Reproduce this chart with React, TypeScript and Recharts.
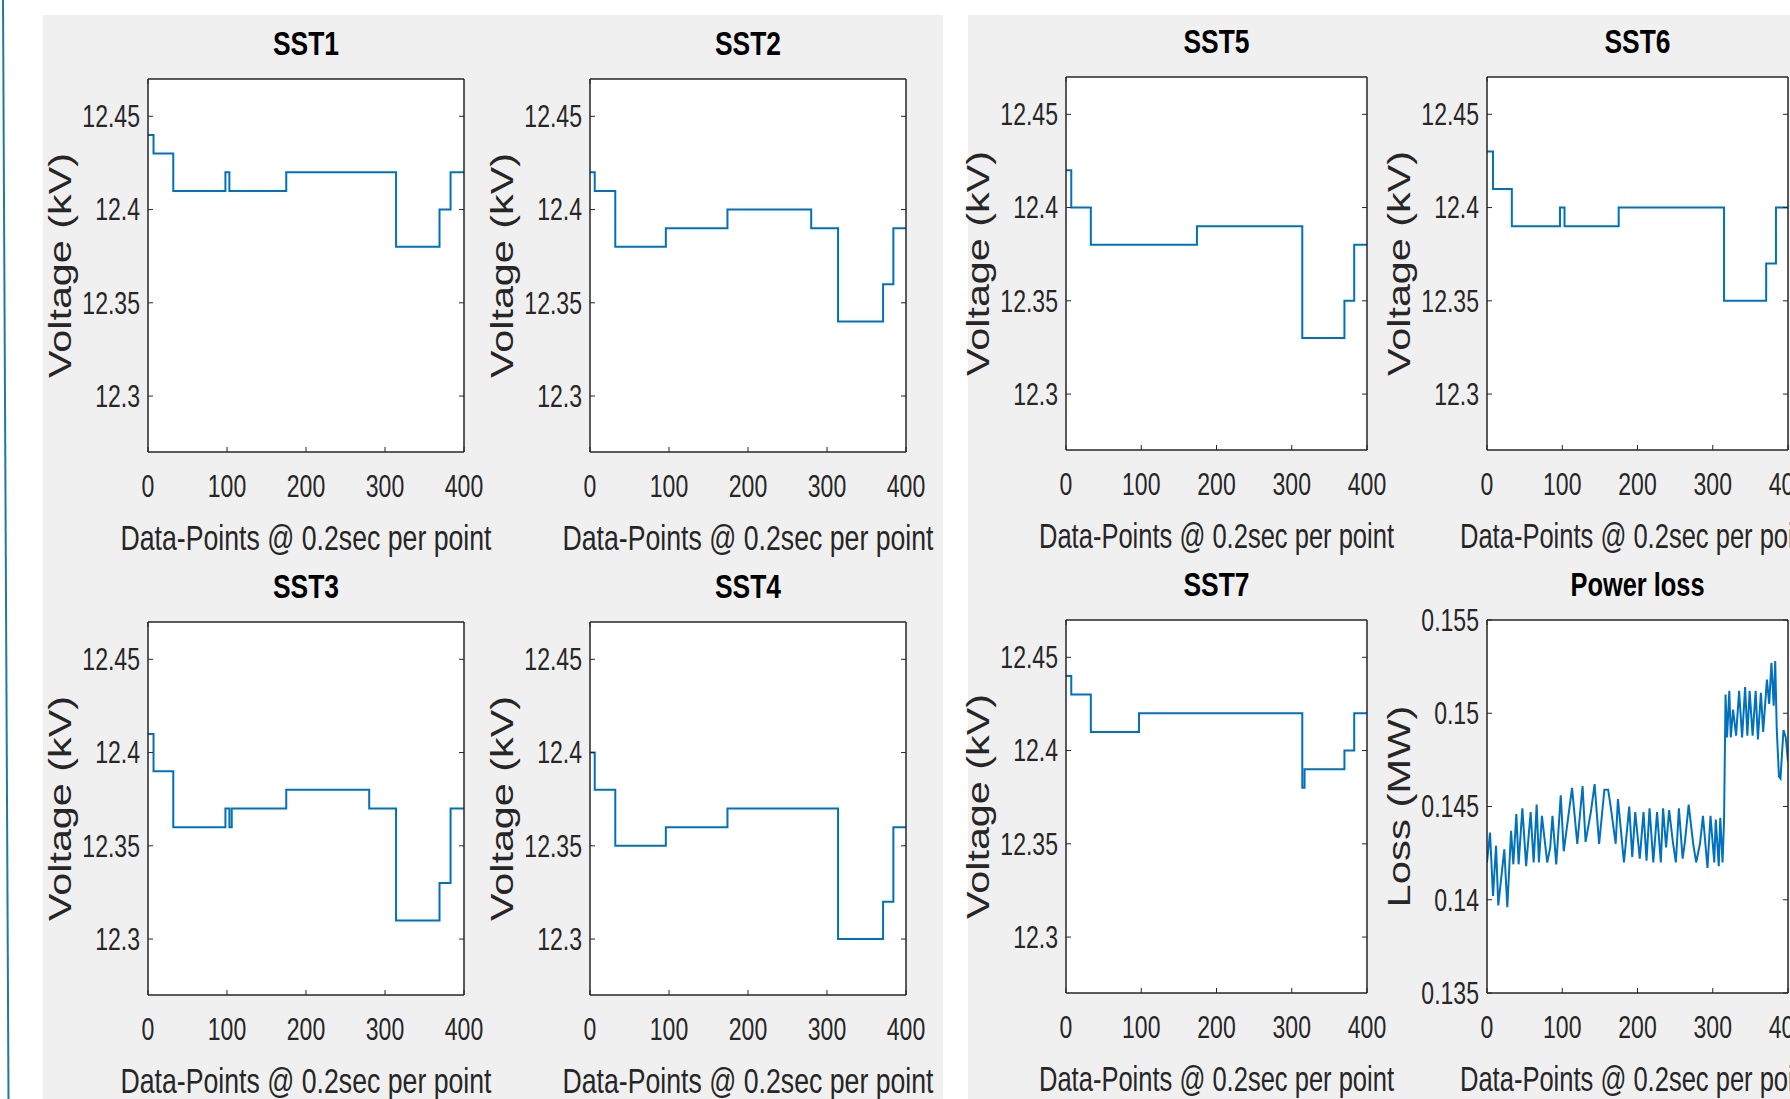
import React from 'react';
import { LineChart, Line, XAxis, YAxis, CartesianGrid } from 'recharts';

// axis ticks
const xTicks = [0, 100, 200, 300, 400];
const voltTicks = [12.3, 12.35, 12.4, 12.45];
const lossTicks = [0.135, 0.14, 0.145, 0.15, 0.155];

// step series: sample index where a new level starts, and that level (kV)
const sst1X = [0, 7, 32, 98, 103, 175, 314, 369, 383, 400];
const sst1V = [12.44, 12.43, 12.41, 12.42, 12.41, 12.42, 12.38, 12.4, 12.42, 12.42];
const sst2X = [0, 6, 32, 96, 174, 280, 314, 371, 384, 400];
const sst2V = [12.42, 12.41, 12.38, 12.39, 12.4, 12.39, 12.34, 12.36, 12.39, 12.39];
const sst3X = [0, 7, 32, 98, 103, 106, 175, 280, 314, 369, 383, 400];
const sst3V = [12.41, 12.39, 12.36, 12.37, 12.36, 12.37, 12.38, 12.37, 12.31, 12.33, 12.37, 12.37];
const sst4X = [0, 6, 32, 96, 174, 314, 371, 384, 400];
const sst4V = [12.4, 12.38, 12.35, 12.36, 12.37, 12.3, 12.32, 12.36, 12.36];
const sst5X = [0, 7, 33, 174, 314, 370, 383, 400];
const sst5V = [12.42, 12.4, 12.38, 12.39, 12.33, 12.35, 12.38, 12.38];
const sst6X = [0, 8, 33, 97, 103, 175, 315, 371, 384, 400];
const sst6V = [12.43, 12.41, 12.39, 12.4, 12.39, 12.4, 12.35, 12.37, 12.4, 12.4];
const sst7X = [0, 7, 33, 97, 314, 317, 370, 383, 400];
const sst7V = [12.44, 12.43, 12.41, 12.42, 12.38, 12.39, 12.4, 12.42, 12.42];

// power loss (MW)
const lossX = [
  0, 4, 8, 12, 15, 23, 27, 32, 35, 39, 42, 47, 52, 58, 62, 66, 69, 73, 80, 84,
  87, 92, 98, 102, 113, 120, 127, 131, 138, 143, 149, 156, 161, 164, 171, 174, 182, 189, 193, 197,
  203, 208, 212, 216, 221, 226, 231, 234, 238, 242, 247, 251, 255, 260, 263, 268, 274, 278, 283, 287,
  293, 297, 302, 304, 308, 310, 313, 315, 317, 319, 322, 324, 327, 331, 335, 339, 343, 346, 349, 353,
  357, 360, 364, 367, 372, 375, 378, 381, 383, 385, 388, 390, 394, 397, 400,
];
const lossY = [
  0.142, 0.1436, 0.1402, 0.1429, 0.1397, 0.1427, 0.1396, 0.1437, 0.1419, 0.1446, 0.1419, 0.1449, 0.1418, 0.1447, 0.142, 0.1451, 0.142, 0.1445, 0.142, 0.1428,
  0.1445, 0.1419, 0.1456, 0.1426, 0.146, 0.143, 0.1461, 0.1431, 0.1447, 0.1462, 0.143, 0.1459, 0.1459, 0.1451, 0.143, 0.1454, 0.142, 0.145, 0.1423, 0.1447,
  0.1422, 0.1447, 0.1421, 0.1449, 0.142, 0.1447, 0.142, 0.1449, 0.1428, 0.1448, 0.1431, 0.142, 0.1449, 0.1422, 0.1431, 0.1451, 0.143, 0.142, 0.143, 0.1445,
  0.1417, 0.1445, 0.142, 0.1443, 0.1418, 0.1444, 0.142, 0.1442, 0.151, 0.1487, 0.1512, 0.1487, 0.1502, 0.1488, 0.1512, 0.1487, 0.1514, 0.1488, 0.1512, 0.1488,
  0.1512, 0.1486, 0.1511, 0.149, 0.1518, 0.1505, 0.1527, 0.1504, 0.1528, 0.1492, 0.1466, 0.1465, 0.1491, 0.1487, 0.1474,
];

const FONT = '"Liberation Sans", Arial, Helvetica, sans-serif';
const INK = '#262626';
const BLUE = '#0072BD';
const XLABEL = 'Data-Points @ 0.2sec per point';

// room around each plot box inside its chart
const ML = 80;
const MR = 34;
const MT = 22;
const MB = 60;

const bottomTick = (p: any) => (
  <text
    x={0}
    y={0}
    transform={`translate(${p.x},${p.y}) scale(0.72,1)`}
    textAnchor="middle"
    dominantBaseline="central"
    fontSize={32}
    fill={INK}
    fontFamily={FONT}
  >
    {p.payload.value}
  </text>
);

const leftTick = (p: any) => (
  <text
    x={0}
    y={0}
    transform={`translate(${p.x},${p.y}) scale(0.72,1)`}
    textAnchor="end"
    dominantBaseline="central"
    fontSize={32}
    fill={INK}
    fontFamily={FONT}
  >
    {p.payload.value}
  </text>
);

const noTick = () => <g />;

const axisLine = { stroke: INK, strokeWidth: 1.5 };
const tickLine = { stroke: INK, strokeWidth: 1 };

type Box = { x: number; y: number; w: number; h: number };

function Subplot({ box, xs, ys, step, yDomain, yTicks }: {
  box: Box; xs: number[]; ys: number[]; step: boolean; yDomain: [number, number]; yTicks: number[];
}) {
  const data = xs.map((x, i) => ({ x, v: ys[i] }));
  return (
    <div style={{ position: 'absolute', left: box.x - ML, top: box.y - MT }}>
      <LineChart width={ML + box.w + MR} height={MT + box.h + MB} data={data} margin={{ top: 0, right: 0, bottom: 0, left: 0 }}>
        <CartesianGrid xAxisId="b" yAxisId="l" fill="#ffffff" horizontal={false} vertical={false} />
        <XAxis xAxisId="b" dataKey="x" type="number" domain={[0, 400]} ticks={xTicks} allowDataOverflow interval={0}
          height={MB} tickSize={-5} tickMargin={39} tick={bottomTick} axisLine={axisLine} tickLine={tickLine} />
        <XAxis xAxisId="t" orientation="top" type="number" domain={[0, 400]} ticks={xTicks} allowDataOverflow interval={0}
          height={MT} tickSize={-5} tick={noTick} axisLine={axisLine} tickLine={tickLine} />
        <YAxis yAxisId="l" type="number" domain={yDomain} ticks={yTicks} allowDataOverflow interval={0}
          width={ML} tickSize={-5} tickMargin={13} tick={leftTick} axisLine={axisLine} tickLine={tickLine} />
        <YAxis yAxisId="r" orientation="right" type="number" domain={yDomain} ticks={yTicks} allowDataOverflow interval={0}
          width={MR} tickSize={-5} tick={noTick} axisLine={axisLine} tickLine={tickLine} />
        <Line xAxisId="b" yAxisId="l" dataKey="v" type={step ? 'stepAfter' : 'linear'} stroke={BLUE} strokeWidth={2}
          dot={false} activeDot={false} isAnimationActive={false} />
      </LineChart>
    </div>
  );
}

const VOLT: [number, number] = [12.27, 12.47];
const LOSS: [number, number] = [0.135, 0.155];

const plots = [
  { title: 'SST1', box: { x: 148, y: 79, w: 316, h: 373 }, xs: sst1X, ys: sst1V, lw: 371 },
  { title: 'SST2', box: { x: 590, y: 79, w: 316, h: 373 }, xs: sst2X, ys: sst2V, lw: 371 },
  { title: 'SST3', box: { x: 148, y: 622, w: 316, h: 373 }, xs: sst3X, ys: sst3V, lw: 371 },
  { title: 'SST4', box: { x: 590, y: 622, w: 316, h: 373 }, xs: sst4X, ys: sst4V, lw: 371 },
  { title: 'SST5', box: { x: 1066, y: 77, w: 301, h: 373 }, xs: sst5X, ys: sst5V, lw: 355 },
  { title: 'SST6', box: { x: 1487, y: 77, w: 301, h: 373 }, xs: sst6X, ys: sst6V, lw: 355 },
  { title: 'SST7', box: { x: 1066, y: 620, w: 301, h: 373 }, xs: sst7X, ys: sst7V, lw: 355 },
];
const lossBox = { x: 1487, y: 620, w: 301, h: 373 };

function Labels({ title, box, lw, ylabel, ylw, tw }: { title: string; box: Box; lw: number; ylabel: string; ylw: number; tw: number }) {
  const cx = box.x + box.w / 2;
  const cy = box.y + box.h / 2;
  const lx = box.x - 88;
  return (
    <g fontFamily={FONT}>
      <text x={cx} y={box.y - 36} textAnchor="middle" dominantBaseline="central" fontSize={33} fontWeight="bold"
        fill="#000" textLength={tw} lengthAdjust="spacingAndGlyphs">{title}</text>
      <text x={cx} y={box.y + box.h + 85} textAnchor="middle" dominantBaseline="central" fontSize={35}
        fill={INK} textLength={lw} lengthAdjust="spacingAndGlyphs">{XLABEL}</text>
      <text x={0} y={0} transform={`translate(${lx},${cy}) rotate(-90)`} textAnchor="middle" dominantBaseline="central"
        fontSize={32} fill={INK} textLength={ylw} lengthAdjust="spacingAndGlyphs">{ylabel}</text>
    </g>
  );
}

export default function App() {
  return (
    <div style={{ position: 'absolute', left: 0, top: 0, width: 1790, height: 1099, background: '#fff', overflow: 'hidden' }}>
      <svg width={1790} height={1099} style={{ position: 'absolute', left: 0, top: 0 }}>
        <rect x={43} y={15} width={900} height={1084} fill="#f0f0f0" />
        <rect x={968} y={15} width={822} height={1084} fill="#f0f0f0" />
        <line x1={3} y1={0} x2={8.5} y2={1099} stroke="#1f7b98" strokeWidth={2} />
        {plots.map((p) => (
          <Labels key={p.title} title={p.title} box={p.box} lw={p.lw} ylabel="Voltage (kV)" ylw={225} tw={66} />
        ))}
        <Labels title="Power loss" box={lossBox} lw={355} ylabel="Loss (MW)" ylw={202} tw={134} />
      </svg>
      {plots.map((p) => (
        <Subplot key={p.title} box={p.box} xs={p.xs} ys={p.ys} step yDomain={VOLT} yTicks={voltTicks} />
      ))}
      <Subplot box={lossBox} xs={lossX} ys={lossY} step={false} yDomain={LOSS} yTicks={lossTicks} />
    </div>
  );
}
